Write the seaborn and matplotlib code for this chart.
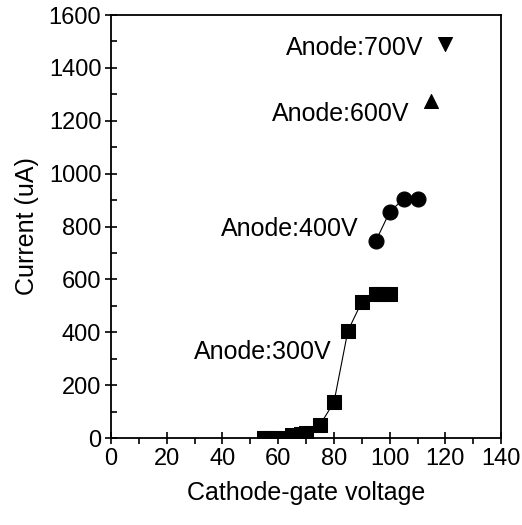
import matplotlib
matplotlib.use('Agg')
import matplotlib.pyplot as plt
import seaborn as sns
import pandas as pd
from matplotlib.ticker import MultipleLocator

# data
v300 = [55, 57, 60, 65, 68, 70, 75, 80, 85, 90, 95, 97, 100]
i300 = [0, 0, 0, 10, 15, 20, 50, 135, 405, 515, 545, 545, 545]
v400 = [95, 100, 105, 110]
i400 = [745, 855, 905, 905]
v600 = [115]
i600 = [1275]
v700 = [120]
i700 = [1490]

labels = ['Anode:300V', 'Anode:400V', 'Anode:600V', 'Anode:700V']
label_x = [79, 89, 107, 112]
label_y = [325, 790, 1225, 1475]

sns.set_style('ticks', {'axes.edgecolor': 'black', 'text.color': 'black',
                        'axes.labelcolor': 'black', 'xtick.color': 'black',
                        'ytick.color': 'black'})
plt.rcParams['font.family'] = ['Liberation Sans', 'DejaVu Sans']

fig = plt.figure(figsize=(5.22, 5.25), dpi=100)
ax = fig.add_axes([0.2126, 0.1657, 0.7475, 0.8057])

df300 = pd.DataFrame({'v': v300, 'i': i300})
df400 = pd.DataFrame({'v': v400, 'i': i400})

sns.lineplot(data=df300, x='v', y='i', color='black', lw=0.8, ax=ax)
sns.scatterplot(data=df300, x='v', y='i', marker='s', s=90, color='black',
                edgecolor='black', ax=ax)
sns.lineplot(data=df400, x='v', y='i', color='black', lw=0.8, ax=ax)
sns.scatterplot(data=df400, x='v', y='i', marker='o', s=115, color='black',
                edgecolor='black', ax=ax)
sns.scatterplot(x=v600, y=i600, marker='^', s=100, color='black', edgecolor='black', ax=ax)
sns.scatterplot(x=v700, y=i700, marker='v', s=100, color='black', edgecolor='black', ax=ax)

for lab, x, y in zip(labels, label_x, label_y):
    ax.text(x, y, lab, ha='right', va='center', fontsize=18, color='black')

ax.set_xlim(0, 140)
ax.set_ylim(0, 1600)
ax.xaxis.set_major_locator(MultipleLocator(20))
ax.xaxis.set_minor_locator(MultipleLocator(10))
ax.yaxis.set_major_locator(MultipleLocator(200))
ax.yaxis.set_minor_locator(MultipleLocator(100))
ax.tick_params(which='major', direction='inout', length=8, width=1.2, labelsize=17, pad=3)
ax.tick_params(axis='y', which='minor', direction='in', length=4, width=1.2)
ax.tick_params(axis='x', which='minor', direction='out', length=4, width=1.2)
ax.tick_params(top=False, right=False)
for s in ax.spines.values():
    s.set_linewidth(1.3)

ax.set_xlabel('Cathode-gate voltage', fontsize=18, labelpad=8)
ax.set_ylabel('Current (uA)', fontsize=18, labelpad=7)

fig.savefig('out.png', dpi=100)
